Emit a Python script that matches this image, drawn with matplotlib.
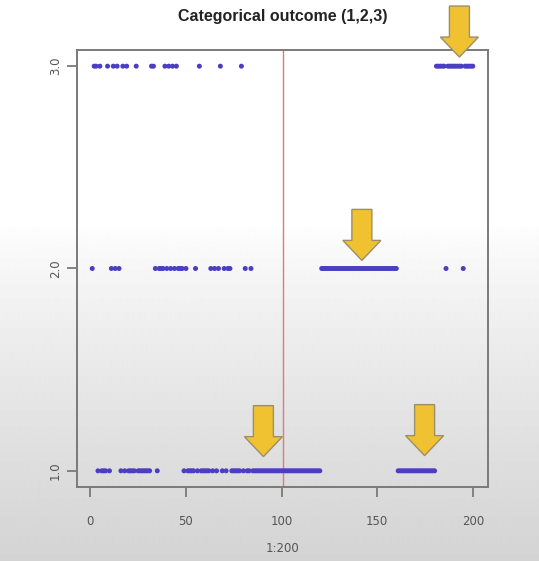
import numpy as np
import matplotlib
matplotlib.use("Agg")
import matplotlib.pyplot as plt
from matplotlib.patches import Polygon
from matplotlib.transforms import ScaledTranslation

# outcome (1, 2 or 3) for each index 1..200
outcome = [
    2, 3, 3, 1, 3, 1, 1, 1, 3, 1, 2, 3, 2, 3, 2, 1, 3, 1, 3, 1,
    1, 1, 1, 3, 1, 1, 1, 1, 1, 1, 1, 3, 3, 2, 1, 2, 2, 2, 3, 2,
    3, 2, 3, 2, 3, 2, 2, 2, 1, 2, 1, 1, 1, 1, 2, 1, 3, 1, 1, 1,
    1, 1, 2, 1, 2, 1, 2, 3, 1, 2, 1, 2, 2, 1, 1, 1, 1, 1, 3, 1,
    2, 1, 1, 2, 1, 1, 1, 1, 1, 1, 1, 1, 1, 1, 1, 1, 1, 1, 1, 1,
    1, 1, 1, 1, 1, 1, 1, 1, 1, 1, 1, 1, 1, 1, 1, 1, 1, 1, 1, 1,
    2, 2, 2, 2, 2, 2, 2, 2, 2, 2, 2, 2, 2, 2, 2, 2, 2, 2, 2, 2,
    2, 2, 2, 2, 2, 2, 2, 2, 2, 2, 2, 2, 2, 2, 2, 2, 2, 2, 2, 2,
    1, 1, 1, 1, 1, 1, 1, 1, 1, 1, 1, 1, 1, 1, 1, 1, 1, 1, 1, 1,
    3, 3, 3, 3, 3, 2, 3, 3, 3, 3, 3, 3, 3, 3, 2, 3, 3, 3, 3, 3,
]
index = np.arange(1, len(outcome) + 1)

split_at = 100.5
# arrow tips (x, y) in data units
arrow_tips = [(90.5, 1.07), (142, 2.04), (174.8, 1.075), (193, 3.045)]

x_ticks = [0, 50, 100, 150, 200]
y_ticks = [1.0, 2.0, 3.0]
y_ticklabels = ["1.0", "2.0", "3.0"]

fig = plt.figure(figsize=(5.39, 5.61), dpi=100)

# greyish fade at the bottom of the screenshot
bg = fig.add_axes([0, 0, 1, 1], zorder=-10)
rows = np.linspace(0, 1, 561)
shade = np.where(rows < 0.40, 1.0, 1.0 - 0.17 * np.clip((rows - 0.40) / 0.60, 0, 1) ** 0.8)
bg.imshow(np.repeat(shade[:, None], 2, axis=1), cmap="gray", vmin=0, vmax=1,
          aspect="auto", extent=[0, 1, 0, 1], origin="upper")
bg.axis("off")

ax = fig.add_axes([0.1429, 0.1319, 0.7625, 0.7790])
ax.set_facecolor("none")

ax.scatter(index, outcome, s=13, color="#4a3ec2", edgecolors="none", zorder=3)
ax.axvline(split_at, color="#e07a7a", lw=1.0, zorder=2)

ax.set_xlim(-6.96, 207.96)
ax.set_ylim(0.92, 3.08)
ax.set_xticks(x_ticks)
ax.set_yticks(y_ticks)
ax.set_yticklabels(y_ticklabels, rotation=90, va="center")

for s in ax.spines.values():
    s.set_color("#7a7a7a")
    s.set_linewidth(1.4)
ax.tick_params(colors="#7a7a7a", labelcolor="#555555", length=7, width=1.3,
               labelsize=8.5)
ax.tick_params(axis="x", pad=13)
ax.tick_params(axis="y", pad=4)

ax.set_xlabel("1:200", fontsize=8.5, color="#555555", labelpad=10)
ax.set_title("Categorical outcome (1,2,3)", fontsize=11.5, fontweight="bold",
             family="Liberation Sans", color="#222222", pad=21)

# yellow down arrows, shape in inches, anchored at the tip
shape = [(0, 0), (-0.19, 0.20), (-0.10, 0.20), (-0.10, 0.51),
         (0.10, 0.51), (0.10, 0.20), (0.19, 0.20)]
for tx, ty in arrow_tips:
    tr = fig.dpi_scale_trans + ScaledTranslation(tx, ty, ax.transData)
    ax.add_patch(Polygon(shape, closed=True, transform=tr, facecolor="#f0c232",
                         edgecolor="#9a8f6a", lw=1.0, clip_on=False, zorder=5))

fig.savefig("out.png", dpi=100)
